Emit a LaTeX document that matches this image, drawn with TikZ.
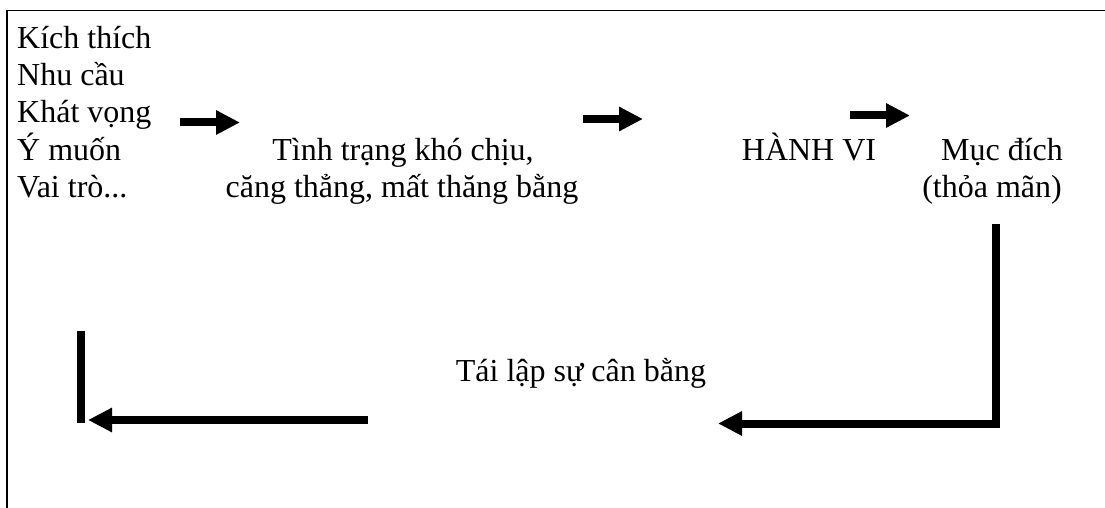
\documentclass[tikz,border=0pt]{standalone}
\usepackage{fontspec}
\setmainfont{Liberation Serif}
\usetikzlibrary{arrows.meta}

\tikzset{
  lbl/.style={inner sep=0pt, anchor=base, font=\fontsize{32}{37}\selectfont},
  fat/.style={line width=8pt, -{Triangle[length=24pt,width=23pt]}},
  bar/.style={line width=8pt},
}

\begin{document}
\begin{tikzpicture}[x=1pt, y=-1pt] % {{{
\useasboundingbox (0,0) rectangle (1105,508);
% frame: only the top and left sides show
\draw[line width=1.5pt] (7,508) -- (7,10.5) -- (1105,10.5);

% sources, one per line
\node[lbl, anchor=base west] (src1) at (17,49)  {Kích thích};
\node[lbl, anchor=base west] (src2) at (17,86)  {Nhu cầu};
\node[lbl, anchor=base west] (src3) at (17,123) {Khát vọng};
\node[lbl, anchor=base west] (src4) at (17,160) {Ý muốn};
\node[lbl, anchor=base west] (src5) at (17,197) {Vai trò...};

\node[lbl] (tense1) at (403,160) {Tình trạng khó chịu,};
\node[lbl] (tense2) at (402,197) {căng thẳng, mất thăng bằng};
\node[lbl] (act)    at (809,160) {HÀNH VI};
\node[lbl] (goal1)  at (1002,160) {Mục đích};
\node[lbl] (goal2)  at (992,197) {(thỏa mãn)};
\node[lbl] (back)   at (581,381) {Tái lập sự cân bằng};

% top row arrows
\coordinate (a1) at (180,122.5); \coordinate (b1) at (240,122.5);
\coordinate (a2) at (583,119);   \coordinate (b2) at (643,119);
\coordinate (a3) at (850,115.5); \coordinate (b3) at (910,115.5);
\draw[fat] (a1) -- (b1);
\draw[fat] (a2) -- (b2);
\draw[fat] (a3) -- (b3);

% loop back
\coordinate (r1) at (996,224);
\coordinate (r2) at (996,423.5);
\coordinate (r3) at (718,423.5);
\draw[fat] (r1) -- (r2) -- (r3);
\coordinate (l1) at (368,420); \coordinate (l2) at (88,420);
\draw[fat] (l1) -- (l2);
\coordinate (s1) at (81,331); \coordinate (s2) at (81,423);
\draw[bar] (s1) -- (s2);
\end{tikzpicture} % }}}
\end{document}
